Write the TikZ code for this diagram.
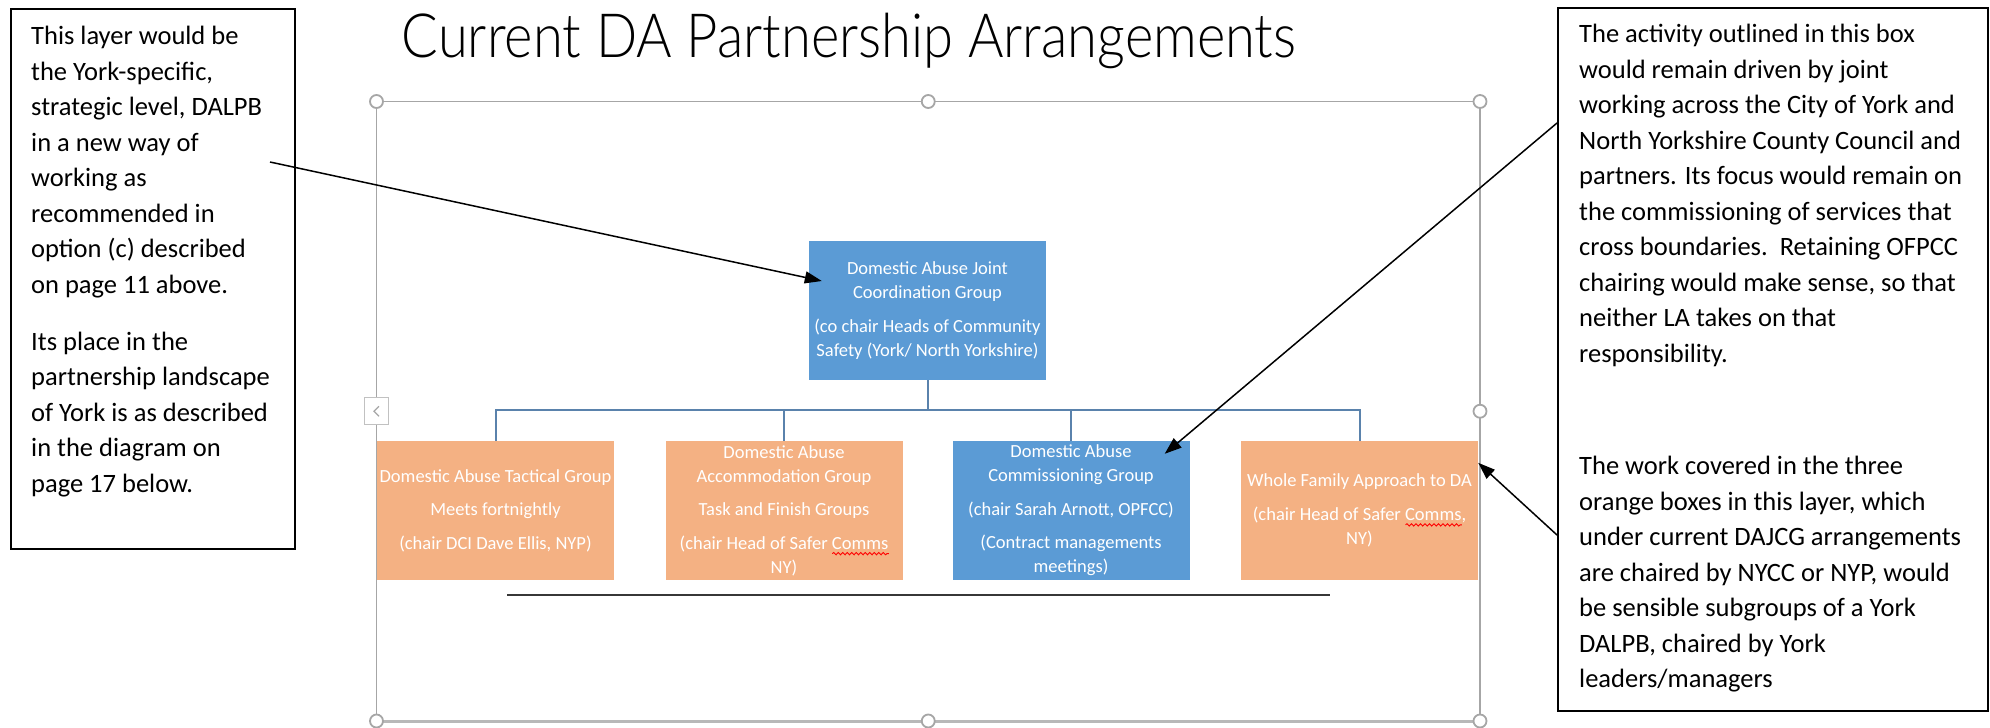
\documentclass[tikz,border=0pt]{standalone}
\usepackage{fontspec}
\setmainfont{Carlito}
\IfFontExistsTF{Lato Light}
  {\newfontfamily\titlefont{Lato Light}}
  {\newfontfamily\titlefont{Carlito}}
\usetikzlibrary{arrows.meta,calc,decorations.pathmorphing}

\definecolor{saBlue}{RGB}{91,155,213}
\definecolor{saOrange}{RGB}{244,177,131}
\definecolor{connBlue}{RGB}{90,130,172}
\definecolor{frameGray}{RGB}{166,166,166}
\definecolor{rulerGray}{RGB}{55,55,55}

% spelling-check wave under a word
\newsavebox\spellbox
\newlength\spellwd
\newcommand\spellmark[1]{\sbox\spellbox{#1}\setlength\spellwd{\wd\spellbox}%
  \rlap{\tikz[baseline=0pt]\draw[red, line width=0.9pt, decorate,
      decoration={snake, amplitude=1.2pt, segment length=4.5pt}]
      (0pt,-4.5pt) -- (\spellwd,-4.5pt);}\usebox\spellbox}

\begin{document}
\begin{tikzpicture}[x=1pt,y=-1pt,
  sabox/.style={minimum width=237pt, minimum height=139pt, inner sep=0pt,
    align=center, text=white, font=\fontsize{18.5}{24}\selectfont},
  conn/.style={draw=connBlue, line width=2pt},
  notebox/.style={draw=black, line width=2pt, inner sep=0pt, anchor=north west},
  notetext/.style={inner sep=0pt, anchor=north west, align=left,
    font=\fontsize{26.5}{35.5}\selectfont},
  callout/.style={draw=black, line width=1.5pt, -{Triangle[length=17pt,width=12pt]}},
  frameline/.style={draw=frameGray, line width=1.5pt},
  handle/.style={circle, draw=frameGray, line width=1.8pt, fill=white,
    minimum size=13pt, inner sep=0pt}]

\useasboundingbox (0,0) rectangle (1990,728);

% title
\node[anchor=base, inner sep=0pt, font=\titlefont\fontsize{61}{63}\selectfont] (title)
  at (849,57) {\scalebox{0.89}[1]{Current DA Partnership Arrangements}};

% selection frame around the chart
\coordinate (fNW) at (376.5,101.5);
\coordinate (fNE) at (1480,101.5);
\coordinate (fSW) at (376.5,721);
\coordinate (fSE) at (1480,721);
\draw[frameline] (fSW) -- (fNW) -- (fNE) -- (fSE);
\draw[draw=frameGray!80, line width=3pt] (fSW) -- (fSE);

% chart boxes
\node[sabox, fill=saBlue] (jcg) at (927.5,310.5)
  {Domestic Abuse Joint\\Coordination Group\\[10pt](co chair Heads of Community\\Safety (York/ North Yorkshire)};
\node[sabox, fill=saOrange] (tac) at (495.5,510.5)
  {Domestic Abuse Tactical Group\\[9.5pt]Meets fortnightly\\[9.5pt](chair DCI Dave Ellis, NYP)};
\node[sabox, fill=saOrange] (acc) at (784,510.5)
  {Domestic Abuse\\Accommodation Group\\[9.5pt]Task and Finish Groups\\[9.5pt](chair Head of Safer \spellmark{Comms}\\NY)};
\node[sabox, fill=saBlue] (com) at (1071,510.5)
  {Domestic Abuse\\Commissioning Group\\[9.5pt](chair Sarah Arnott, OPFCC)\\[9.5pt](Contract managements\\meetings)};
\node[sabox, fill=saOrange] (wfa) at (1359.5,510.5)
  {Whole Family Approach to DA\\[9.5pt](chair Head of Safer \spellmark{Comms},\\NY)};

% hierarchy connectors
\coordinate (bar) at (927.5,410);
\draw[conn] (jcg.south) -- (bar);
\draw[conn] (tac.north) -- (tac.north |- bar) -- (wfa.north |- bar) -- (wfa.north);
\draw[conn] (acc.north) -- (acc.north |- bar);
\draw[conn] (com.north) -- (com.north |- bar);

% rule under the chart
\coordinate (ruleL) at (507,595);
\coordinate (ruleR) at (1330,595);
\draw[draw=rulerGray, line width=2pt] (ruleL) -- (ruleR);

% frame handles
\foreach \h in {fNW,fNE,fSW,fSE} \node[handle] at (\h) {};
\node[handle] (hTop) at ($(fNW)!0.5!(fNE)$) {};
\node[handle] (hBot) at ($(fSW)!0.5!(fSE)$) {};
\node[handle] (hRight) at ($(fNE)!0.5!(fSE)$) {};
\node[draw=frameGray!70, fill=white, line width=1.2pt, minimum width=24pt,
  minimum height=27pt, inner sep=0pt] (navbtn) at ($(fNW)!0.5!(fSW)$) {};
\draw[frameGray, line width=1.3pt] ($(navbtn.center)+(2.5,-5)$) -- ++(-5,5) -- ++(5,5);

% note boxes
\node[notebox, minimum width=284pt, minimum height=540pt] (lbox) at (10,8) {};
\node[notetext] (ltext) at (31,26) {This layer would be\\the York-specific,\\strategic level, DALPB\\in a new way of\\working as\\recommended in\\option (c) described\\on page 11 above.\\[21.5pt]Its place in the\\partnership landscape\\of York is as described\\in the diagram on\\page 17 below.};

\node[notebox, minimum width=430pt, minimum height=703pt] (rbox) at (1557,7) {};
\node[notetext] (rtextA) at (1579,24) {The activity outlined in this box\\would remain driven by joint\\working across the City of York and\\North Yorkshire County Council and\\partners. Its focus would remain on\\the commissioning of services that\\cross boundaries.\ \ Retaining OFPCC\\chairing would make sense, so that\\neither LA takes on that\\responsibility.};
\node[notetext] (rtextB) at (1579,456) {The work covered in the three\\orange boxes in this layer, which\\under current DAJCG arrangements\\are chaired by NYCC or NYP, would\\be sensible subgroups of a York\\DALPB, chaired by York\\leaders/managers};

% callout arrows
\coordinate (c1from) at ($(lbox.north east)+(-26,154)$);
\draw[callout] (c1from) -- ($(jcg.west)+(13,-29.5)$);
\coordinate (c2from) at ($(rbox.north west)+(0,116)$);
\draw[callout] (c2from) -- ($(com.north east)+(-25,13)$);
\coordinate (c3from) at ($(rbox.north west)+(0,528)$);
\draw[callout] (c3from) -- ($(wfa.north east)+(0,22)$);

\end{tikzpicture}
\end{document}
